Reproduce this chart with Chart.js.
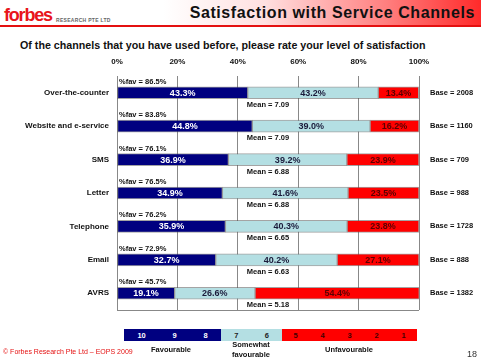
<!DOCTYPE html>
<html>
<head>
<meta charset="utf-8">
<script src="https://cdn.jsdelivr.net/npm/chart.js@4"></script>
<style>
  body { margin: 0; width: 481px; height: 361px; background: #fff; position: relative; overflow: hidden;
         font-family: "Liberation Sans", Arial, sans-serif; }
  .abs { position: absolute; white-space: nowrap; }
  #header { left: 0; top: 0; width: 481px; height: 25px;
            background: linear-gradient(to right, #fff 0%, #fff 34%, #ffe0e0 55%, #ff8080 80%, #ff2a2a 100%); }
  #rule { left: 0; top: 25px; width: 481px; height: 2px; background: #e41010; }
  #logo { left: 4px; top: 5px; font: bold 18px "Liberation Sans", Arial; color: #e8151b; letter-spacing: -1.2px; }
  #logosub { left: 56px; top: 17px; font: bold 5px "Liberation Sans", Arial; color: #666; letter-spacing: 0.3px; }
  #title { right: 6px; top: 4px; font: bold 16px "Liberation Sans", Arial; color: #111; letter-spacing: 0.6px; }
  #subtitle { left: 20px; top: 39px; font: bold 10.7px "Liberation Sans", Arial; color: #111; }
  #scale { left: 124px; top: 329px; height: 12px; display: flex; font: bold 7.5px "Liberation Sans", Arial; }
  #scale div { display: flex; justify-content: space-around; align-items: center; height: 12px; }
  .lg { font: bold 7.5px "Liberation Sans", Arial; color: #111; text-align: center; }
  #footer { left: 3px; top: 348px; font: 7px "Liberation Sans", Arial; color: #e41010; }
  #page { left: 467px; top: 349px; font: 9px "Liberation Sans", Arial; color: #333; }
  canvas { position: absolute; left: 0; top: 0; }
</style>
</head>
<body>
<div id="header" class="abs"></div>
<div id="rule" class="abs"></div>
<div id="logo" class="abs">forbes</div>
<div id="logosub" class="abs">RESEARCH PTE LTD</div>
<div id="title" class="abs">Satisfaction with Service Channels</div>
<div id="subtitle" class="abs">Of the channels that you have used before, please rate your level of satisfaction</div>
<canvas id="chart" width="481" height="361"></canvas>
<div id="scale" class="abs"></div>
<div class="abs lg" style="left:131px;top:345px;width:80px">Favourable</div>
<div class="abs lg" style="left:211px;top:340px;width:80px;white-space:normal;line-height:10px">Somewhat<br>favourable</div>
<div class="abs lg" style="left:309px;top:345px;width:80px">Unfavourable</div>
<div id="footer" class="abs">© Forbes Research Pte Ltd – EOPS 2009</div>
<div id="page" class="abs">18</div>
<script>
// channels, top to bottom
let channels = ["Over-the-counter", "Website and e-service", "SMS", "Letter", "Telephone", "Email", "AVRS"];
// % of ratings in each band
let favourable = [43.3, 44.8, 36.9, 34.9, 35.9, 32.7, 19.1];
let somewhat = [43.2, 39.0, 39.2, 41.6, 40.3, 40.2, 26.6];
let unfavourable = [13.4, 16.2, 23.9, 23.5, 23.8, 27.1, 54.4];
let favTotal = [86.5, 83.8, 76.1, 76.5, 76.2, 72.9, 45.7];
let means = [7.09, 7.09, 6.88, 6.88, 6.65, 6.63, 5.18];
let bases = [2008, 1160, 709, 988, 1728, 888, 1382];
let xTicks = [0, 20, 40, 60, 80, 100];

let navy = "#000080", light = "#b4dfe3", red = "#ff0000";

// rating scale strip at the bottom
let scaleGroups = [
  { nums: ["10", "9", "8"], w: 97, bg: navy, fg: "#fff" },
  { nums: ["7", "6"], w: 61, bg: light, fg: "#222" },
  { nums: ["5", "4", "3", "2", "1"], w: 135, bg: red, fg: "#400" }
];
let scaleBox = document.getElementById("scale");
scaleGroups.forEach((g) => {
  let d = document.createElement("div");
  d.style.width = g.w + "px";
  d.style.background = g.bg;
  d.style.color = g.fg;
  g.nums.forEach((n) => {
    let s = document.createElement("span");
    s.textContent = n;
    d.appendChild(s);
  });
  scaleBox.appendChild(d);
});

let font = (size) => ({ family: "'Liberation Sans', Arial, sans-serif", size: size, weight: "bold" });

let labelsPlugin = {
  id: "labels",
  afterDatasetsDraw(chart) {
    let ctx = chart.ctx;
    let area = chart.chartArea;
    let xs = chart.scales.x;
    ctx.save();
    // bottom rule of the grid
    ctx.strokeStyle = "#888";
    ctx.lineWidth = 1;
    ctx.beginPath();
    ctx.moveTo(area.left, Math.round(area.bottom) + 0.5);
    ctx.lineTo(area.right, Math.round(area.bottom) + 0.5);
    ctx.stroke();

    let colors = ["#fff", "#1a1a3a", "#5a0000"];
    ctx.textBaseline = "middle";
    chart.data.datasets.forEach((ds, di) => {
      chart.getDatasetMeta(di).data.forEach((bar, i) => {
        let p = bar.getProps(["x", "base", "y"], true);
        ctx.fillStyle = colors[di];
        ctx.font = "bold 9px 'Liberation Sans', Arial";
        ctx.textAlign = "center";
        ctx.fillText(ds.data[i].toFixed(1) + "%", (p.x + p.base) / 2, p.y + 0.5);
      });
    });

    let meta = chart.getDatasetMeta(0);
    ctx.fillStyle = "#111";
    meta.data.forEach((bar, i) => {
      let y = bar.y;
      ctx.textAlign = "left";
      ctx.font = "bold 7.5px 'Liberation Sans', Arial";
      ctx.fillText("%fav = " + favTotal[i].toFixed(1) + "%", xs.getPixelForValue(0) + 2, y - 11);
      ctx.fillText("Mean = " + means[i].toFixed(2), xs.getPixelForValue(43), y + 12);
      ctx.fillText("Base = " + bases[i], area.right + 11, y);
    });
    ctx.restore();
  }
};

new Chart("chart", {
  type: "bar",
  data: {
    labels: channels,
    datasets: [
      { data: favourable, backgroundColor: navy },
      { data: somewhat, backgroundColor: light },
      { data: unfavourable, backgroundColor: red }
    ].map((d) => Object.assign(d, { barThickness: 12, borderWidth: 1, borderColor: "rgba(90,90,90,0.55)", borderSkipped: false }))
  },
  options: {
    indexAxis: "y",
    responsive: false,
    animation: false,
    layout: { padding: { left: 0, right: 62, top: 48, bottom: 51 } },
    plugins: { legend: { display: false }, tooltip: { enabled: false } },
    scales: {
      x: {
        position: "top",
        stacked: true,
        min: 0,
        max: 100,
        afterBuildTicks: (s) => { s.ticks = xTicks.map((v) => ({ value: v })); },
        afterFit: (s) => { s.height = 28; },
        ticks: { callback: (v) => v + "%", font: font(8), color: "#111", padding: 9, maxRotation: 0 },
        grid: { color: "#888", drawTicks: false },
        border: { display: false }
      },
      y: {
        stacked: true,
        afterFit: (s) => { s.width = 117; },
        ticks: { font: font(8), color: "#111", padding: 8 },
        grid: { display: false, drawTicks: false },
        border: { display: false }
      }
    }
  },
  plugins: [labelsPlugin]
});
</script>
</body>
</html>
